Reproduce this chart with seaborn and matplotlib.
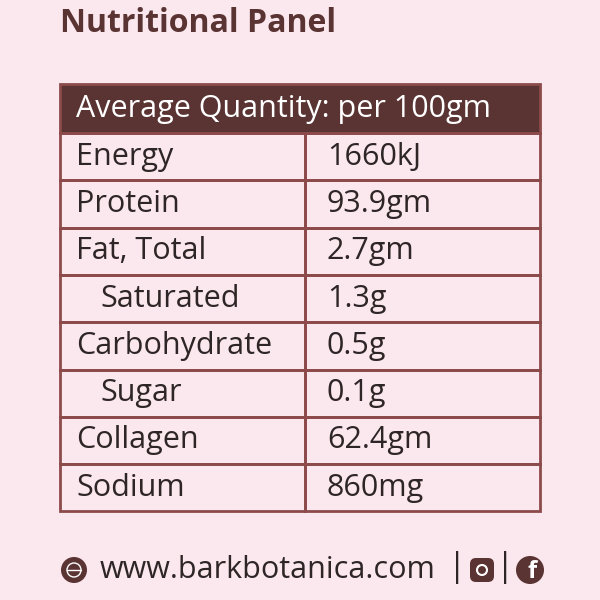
import matplotlib.pyplot as plt
import seaborn as sns
from matplotlib.patches import Rectangle, Circle, FancyBboxPatch

nutrients = ["Energy", "Protein", "Fat, Total", "Saturated", "Carbohydrate",
             "Sugar", "Collagen", "Sodium"]
quantities = ["1660kJ", "93.9gm", "2.7gm", "1.3g", "0.5g", "0.1g", "62.4gm", "860mg"]
indented = [False, False, False, True, False, True, False, False]

BG = "#fbe7ee"
DARK = "#5a3333"
LINE = "#8c4a4a"
TEXT = "#2e2626"
FS = 22

sns.set_theme(style="white")
plt.rcParams["font.family"] = ["Open Sans", "DejaVu Sans"]

fig = plt.figure(figsize=(6, 6), dpi=100, facecolor=BG)
ax = fig.add_axes([0, 0, 1, 1])
ax.set_xlim(0, 600)
ax.set_ylim(600, 0)
ax.axis("off")
ax.set_facecolor(BG)

ax.text(60, 24, "Nutritional Panel", fontsize=23, fontweight="bold",
        color=DARK, va="center", ha="left")

# header
left, right, mid = 60, 540, 305
top, head_h, row_h = 84, 49, 47.3
ax.add_patch(Rectangle((left, top), right - left, head_h, facecolor=DARK,
                       edgecolor=LINE, lw=2))
ax.text(76, top + head_h / 2, "Average Quantity: per 100gm", fontsize=FS,
        color="white", va="center", ha="left")

y0 = top + head_h
for i, (name, qty, ind) in enumerate(zip(nutrients, quantities, indented)):
    y = y0 + i * row_h
    ax.add_patch(Rectangle((left, y), mid - left, row_h, facecolor="none",
                           edgecolor=LINE, lw=2))
    ax.add_patch(Rectangle((mid, y), right - mid, row_h, facecolor="none",
                           edgecolor=LINE, lw=2))
    ax.text(100 if ind else 76, y + row_h / 2, name, fontsize=FS, color=TEXT,
            va="center", ha="left")
    ax.text(327, y + row_h / 2, qty, fontsize=FS, color=TEXT,
            va="center", ha="left")

# footer
fy = 570
ax.add_patch(Circle((74, fy), 13, facecolor=DARK, edgecolor="none"))
ax.add_patch(Circle((74, fy), 7, facecolor="none", edgecolor="white", lw=1))
ax.plot([67, 81], [fy, fy], color="white", lw=1)
ax.text(100, fy, "www.barkbotanica.com", fontsize=FS, color=TEXT,
        va="center", ha="left")
ax.text(457, fy - 2, "|", fontsize=24, color=TEXT, va="center", ha="center")
ax.add_patch(FancyBboxPatch((470, fy - 12), 24, 24,
                            boxstyle="round,pad=0,rounding_size=6",
                            facecolor=DARK, edgecolor="none"))
ax.add_patch(Circle((482, fy), 5, facecolor="none", edgecolor="white", lw=1.5))
ax.text(505, fy - 2, "|", fontsize=24, color=TEXT, va="center", ha="center")
ax.add_patch(Circle((530, fy), 14, facecolor=DARK, edgecolor="none"))
ax.text(532, fy + 2, "f", fontsize=17, fontweight="bold", color="white",
        va="center", ha="center")

fig.savefig("out.png", dpi=100, facecolor=BG)
